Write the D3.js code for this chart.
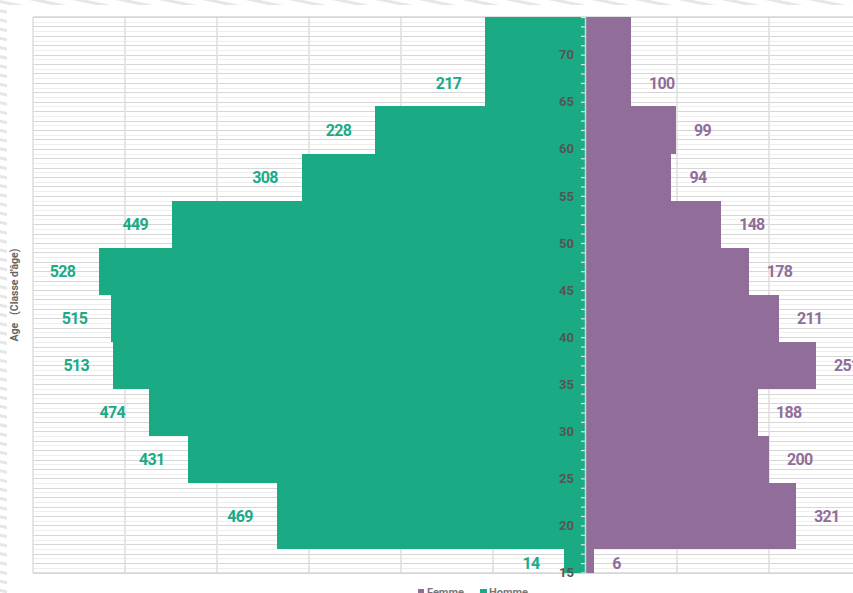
<!DOCTYPE html>
<html><head><meta charset="utf-8">
<script src="https://cdn.jsdelivr.net/npm/d3@7/dist/d3.min.js"></script>
<style>
html,body{margin:0;padding:0;background:#fff;overflow:hidden;}
svg{display:block;}
text{font-family:"Liberation Sans Narrow","Roboto","Liberation Sans",sans-serif;font-weight:bold;}
</style></head>
<body><svg id="c" width="853" height="593"></svg>
<script>
const classes = ["15-17","18-24","25-29","30-34","35-39","40-44","45-49","50-54","55-59","60-64","65-74"];
const ageLow  = [15,18,25,30,35,40,45,50,55,60,65];
const ageHigh = [17,24,29,34,39,44,49,54,59,64,74];
const homme = [14,469,431,474,513,515,528,449,308,228,217];
const femme = [6,321,200,188,251,211,178,148,94,99,100];
const ageTicks = [15,20,25,30,35,40,45,50,55,60,65,70];
const seriesNames = ["Femme","Homme"];

const W = 853, H = 593;
const svg = d3.select("#c");
const cGreen = "#1aab85", cPurple = "#916d99";

// background stripes
const defs = svg.append("defs");
const pat = defs.append("pattern").attr("id","stripe").attr("patternUnits","userSpaceOnUse")
  .attr("width",40).attr("height",9).attr("patternTransform","rotate(12)");
pat.append("rect").attr("width",40).attr("height",9).attr("fill","#fff");
pat.append("rect").attr("y",0).attr("width",40).attr("height",3).attr("fill","#e6e6e6");
svg.append("rect").attr("x",0).attr("y",0).attr("width",W).attr("height",5).attr("fill","url(#stripe)");
svg.append("rect").attr("x",0).attr("y",0).attr("width",7).attr("height",H).attr("fill","url(#stripe)");

const plot = {left:33, top:17, bottom:573};
const x = d3.scaleLinear().domain([-600,300]).range([33,861]);
const y = d3.scaleLinear().domain([15,74]).range([572.5,17]);

defs.append("clipPath").attr("id","pc").append("rect")
  .attr("x",plot.left).attr("y",plot.top).attr("width",W-plot.left).attr("height",plot.bottom-plot.top);

const g = svg.append("g");
// horizontal gridlines
const halfAges = d3.range(15,74.01,0.5);
g.selectAll("line.hg").data(halfAges).join("line")
  .attr("x1",plot.left).attr("x2",W)
  .attr("y1",d=>Math.round(y(d))+0.5).attr("y2",d=>Math.round(y(d))+0.5)
  .attr("stroke",d=>Number.isInteger(d)?"#d6d6d6":"#eeeeee").attr("stroke-width",1);
// vertical gridlines
const vx = d3.range(-600,301,100);
g.selectAll("line.vg").data(vx).join("line")
  .attr("x1",d=>x(d)).attr("x2",d=>x(d)).attr("y1",plot.top).attr("y2",plot.bottom)
  .attr("stroke","#dedede").attr("stroke-width",1.5);
g.append("line").attr("x1",plot.left).attr("x2",W).attr("y1",plot.top).attr("y2",plot.top).attr("stroke","#d6d6d6").attr("stroke-width",1.5);
g.append("line").attr("x1",plot.left).attr("x2",W).attr("y1",plot.bottom).attr("y2",plot.bottom).attr("stroke","#d6d6d6").attr("stroke-width",1.5);

const data = classes.map((c,i)=>{
  const lo = ageLow[i]-0.5, hi = ageHigh[i]+0.5, w = hi-lo;
  return {c, lo, hi, w, h:homme[i], f:femme[i], hd:homme[i]*5/w, fd:femme[i]*5/w,
    la: (w>7? ageLow[i]+2 : (ageLow[i]+ageHigh[i])/2)};
});

const R = Math.round;
const bars = svg.append("g").attr("clip-path","url(#pc)").attr("shape-rendering","crispEdges");
bars.selectAll("rect.h").data(data).join("rect")
  .attr("x",d=>R(x(-d.hd))).attr("width",d=>R(x(0))-R(x(-d.hd)))
  .attr("y",d=>R(y(d.hi))).attr("height",d=>R(y(d.lo))-R(y(d.hi))).attr("fill",cGreen);
bars.selectAll("rect.f").data(data).join("rect")
  .attr("x",R(x(0))).attr("width",d=>R(x(d.fd))-R(x(0)))
  .attr("y",d=>R(y(d.hi))).attr("height",d=>R(y(d.lo))-R(y(d.hi))).attr("fill",cPurple);

// value labels
svg.append("g").selectAll("text").data(data).join("text")
  .attr("x",d=>x(-d.hd)-24).attr("y",d=>y(d.la)).attr("dy","0.35em")
  .attr("text-anchor","end").attr("fill",cGreen).attr("font-size",16).attr("letter-spacing",-0.7).text(d=>d.h);
svg.append("g").selectAll("text").data(data).join("text")
  .attr("x",d=>x(d.fd)+18).attr("y",d=>y(d.la)).attr("dy","0.35em")
  .attr("text-anchor","start").attr("fill",cPurple).attr("font-size",16).attr("letter-spacing",-0.7).text(d=>d.f);

// center axis
const ax = svg.append("g").attr("transform",`translate(${x(0)},0)`);
ax.call(d3.axisLeft(y).tickValues(d3.range(15,75,1)).tickSize(4).tickPadding(7)
  .tickFormat(d=>ageTicks.includes(d)?d:""));
ax.select(".domain").remove();
ax.selectAll(".tick line").attr("stroke","#d5ece6").attr("stroke-width",1.2);
ax.selectAll(".tick text").attr("fill","#555").attr("font-size",13)
  .attr("font-family","'Liberation Sans Narrow',Roboto,sans-serif").attr("font-weight","bold");
svg.append("line").attr("x1",x(0)+0.5).attr("x2",x(0)+0.5).attr("y1",plot.top).attr("y2",plot.bottom)
  .attr("stroke","#b8e2d8").attr("stroke-width",1.5);

// y title
svg.append("text").attr("transform","translate(18,295) rotate(-90)")
  .attr("text-anchor","middle").attr("fill","#666").attr("font-size",10.5)
  .attr("xml:space","preserve").text("Age   (Classe d'âge)");

// legend
const lg = svg.append("g");
const lx = [418,480], lc = [cPurple,cGreen];
seriesNames.forEach((n,i)=>{
  lg.append("rect").attr("x",lx[i]).attr("y",589).attr("width",i?7:6).attr("height",6).attr("fill",lc[i]);
  lg.append("text").attr("x",lx[i]+9).attr("y",596).attr("fill","#777").attr("font-size",11).text(n);
});
</script></body></html>
